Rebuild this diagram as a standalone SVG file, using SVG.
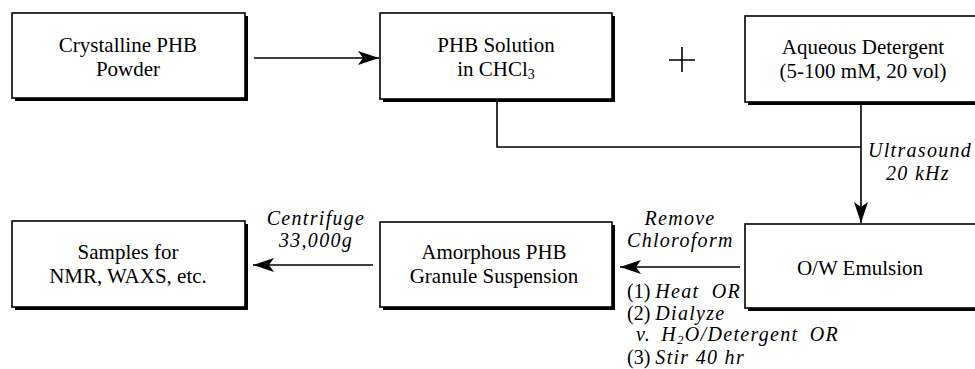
<svg xmlns="http://www.w3.org/2000/svg" width="975" height="369" viewBox="0 0 975 369">
<defs>
<style>
.box{fill:#fff;stroke:#000;stroke-width:1.6}
.sh{fill:#000}
.t{font-family:"Liberation Serif","DejaVu Serif",serif;font-size:21px;fill:#000;text-anchor:middle}
.i{font-family:"Liberation Serif","DejaVu Serif",serif;font-size:20px;font-style:italic;fill:#000;letter-spacing:1.3px}
.u{font-style:normal;letter-spacing:0}
.ln{fill:none;stroke:#000;stroke-width:1.6}
</style>
<marker id="ah" markerWidth="22" markerHeight="14" refX="21" refY="7" orient="auto" markerUnits="userSpaceOnUse">
<path d="M0,0 L21,7 L0,14 L5,7 Z" fill="#000"/>
</marker>
</defs>
<rect width="975" height="369" fill="#fff"/>
<g id="connectors">
<line class="ln" x1="254" y1="58" x2="379" y2="58" marker-end="url(#ah)"/>
<path class="ln" d="M497,101 V147 H861"/>
<line class="ln" x1="861" y1="104" x2="861" y2="223" marker-end="url(#ah)"/>
<line class="ln" x1="740" y1="267" x2="620" y2="267" marker-end="url(#ah)"/>
<line class="ln" x1="373" y1="265" x2="253" y2="265" marker-end="url(#ah)"/>
<path class="ln" d="M682,47 V72 M669,60 H695"/>
</g>
<g id="n1">
<rect class="sh" x="15" y="16" width="233" height="85"/>
<rect class="box" x="12" y="13" width="233" height="85"/>
<text class="t" x="128" y="52">Crystalline PHB</text>
<text class="t" x="128" y="76">Powder</text>
</g>
<g id="n2">
<rect class="sh" x="383" y="16" width="232" height="86"/>
<rect class="box" x="380" y="13" width="232" height="86"/>
<text class="t" x="496" y="52">PHB Solution</text>
<text class="t" x="496" y="76">in CHCl<tspan font-size="14" dy="3">3</tspan></text>
</g>
<g id="n3">
<rect class="sh" x="748" y="19" width="240" height="86"/>
<rect class="box" x="745" y="16" width="240" height="86"/>
<text class="t" x="863" y="54">Aqueous Detergent</text>
<text class="t" x="863" y="78">(5-100 mM, 20 vol)</text>
</g>
<g id="n4">
<rect class="sh" x="748" y="227" width="240" height="84"/>
<rect class="box" x="745" y="224" width="240" height="84"/>
<text class="t" x="860" y="275">O/W Emulsion</text>
</g>
<g id="n5">
<rect class="sh" x="383" y="225" width="232" height="85"/>
<rect class="box" x="380" y="222" width="232" height="85"/>
<text class="t" x="494" y="259">Amorphous PHB</text>
<text class="t" x="494" y="283">Granule Suspension</text>
</g>
<g id="n6">
<rect class="sh" x="15" y="224" width="233" height="86"/>
<rect class="box" x="12" y="221" width="233" height="86"/>
<text class="t" x="128" y="259">Samples for</text>
<text class="t" x="128" y="283">NMR, WAXS, etc.</text>
</g>
<g id="labels">
<text class="i" x="868" y="157">Ultrasound</text>
<text class="i" x="918" y="180" text-anchor="middle">20 kHz</text>
<text class="i" x="680" y="225" text-anchor="middle" letter-spacing="5">Remove</text>
<text class="i" x="627" y="247">Chloroform</text>
<text class="i" x="627" y="298"><tspan class="u">(1) </tspan>Heat <tspan dx="6">OR</tspan></text>
<text class="i" x="627" y="320"><tspan class="u">(2) </tspan>Dialyze</text>
<text class="i" x="636" y="341">v. <tspan dx="4">H</tspan><tspan font-size="13" dy="3">2</tspan><tspan dy="-3">O/Detergent </tspan><tspan dx="5">OR</tspan></text>
<text class="i" x="627" y="364"><tspan class="u">(3) </tspan>Stir 40 hr</text>
<text class="i" x="316" y="225" text-anchor="middle">Centrifuge</text>
<text class="i" x="316" y="247" text-anchor="middle">33,000g</text>
</g>
</svg>
